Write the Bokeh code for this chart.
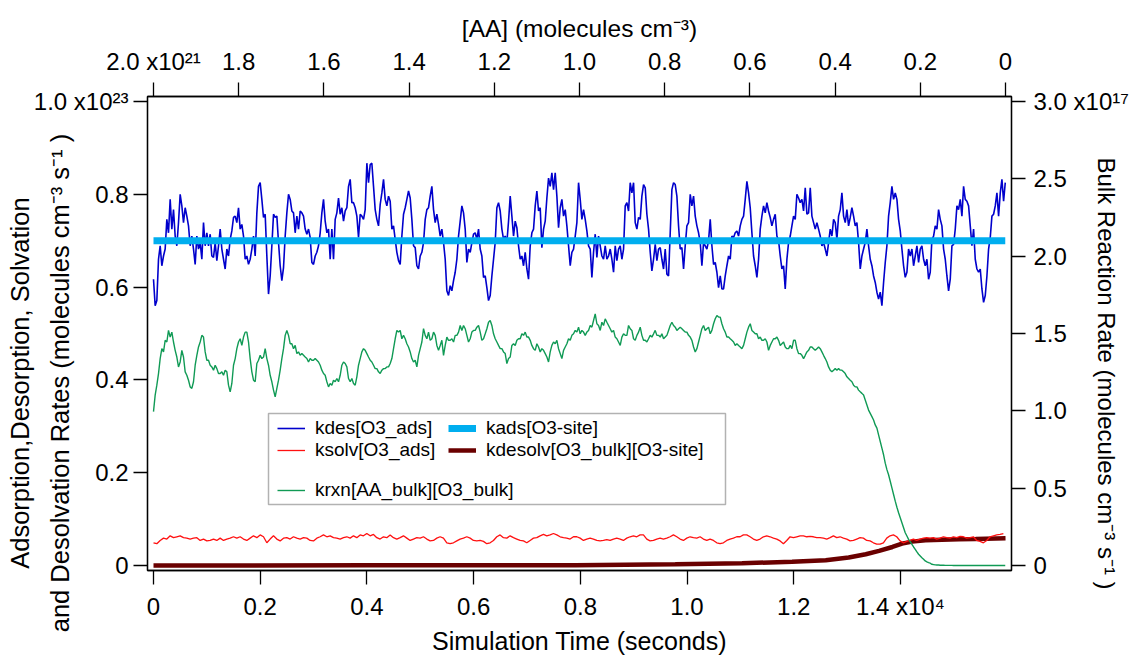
import numpy as np
from bokeh.plotting import figure
from bokeh.models import (Range1d, LinearAxis, FixedTicker, Legend, LegendItem,
                          BoxAnnotation)
from bokeh.embed import file_html
from bokeh.resources import INLINE

FONT = "Liberation Sans"
LEFT_UNIT = 1e23    # left axis unit (molecules cm-3 s-1)
RIGHT_UNIT = 1e17   # right axis unit
T_END = 15965.0     # last simulation time (s)

# ---------------- data ----------------
# kdes[O3_ads]  (x1e23), evenly sampled over 0..T_END
kdes = [
    0.617,0.560,0.571,0.660,0.689,0.646,0.667,0.682,0.746,0.717,
    0.789,0.725,0.767,0.710,0.689,0.739,0.800,0.775,0.739,0.771,
    0.753,0.732,0.689,0.710,0.682,0.649,0.710,0.682,0.696,0.660,
    0.739,0.689,0.717,0.689,0.714,0.667,0.664,0.696,0.657,0.689,
    0.725,0.682,0.660,0.639,0.682,0.667,0.703,0.721,0.750,0.753,
    0.739,0.771,0.725,0.735,0.710,0.660,0.667,0.649,0.660,0.682,
    0.710,0.667,0.760,0.817,0.825,0.789,0.750,0.757,0.667,0.585,
    0.624,0.689,0.757,0.750,0.753,0.696,0.646,0.614,0.642,0.710,
    0.760,0.800,0.789,0.764,0.760,0.717,0.753,0.725,0.764,0.760,
    0.753,0.725,0.714,0.725,0.707,0.653,0.649,0.667,0.675,0.689,
    0.717,0.760,0.789,0.742,0.717,0.725,0.660,0.725,0.660,0.746,
    0.760,0.792,0.757,0.771,0.742,0.764,0.771,0.817,0.832,0.782,
    0.782,0.771,0.753,0.707,0.757,0.753,0.746,0.767,0.867,0.825,
    0.864,0.867,0.817,0.767,0.746,0.732,0.778,0.803,0.832,0.789,
    0.775,0.796,0.785,0.725,0.732,0.703,0.675,0.657,0.649,0.710,
    0.757,0.771,0.789,0.807,0.792,0.746,0.689,0.685,0.646,0.639,
    0.667,0.675,0.696,0.746,0.767,0.771,0.796,0.817,0.767,0.739,
    0.757,0.735,0.710,0.725,0.696,0.660,0.592,0.582,0.603,0.592,
    0.614,0.632,0.660,0.710,0.742,0.775,0.760,0.725,0.653,0.682,
    0.675,0.696,0.714,0.717,0.703,0.725,0.682,0.667,0.621,0.624,
    0.599,0.571,0.582,0.624,0.660,0.696,0.771,0.782,0.764,0.725,
    0.703,0.710,0.696,0.742,0.796,0.753,0.710,0.742,0.728,0.689,
    0.660,0.667,0.646,0.675,0.639,0.617,0.689,0.717,0.725,0.775,
    0.807,0.764,0.771,0.685,0.725,0.742,0.792,0.835,0.817,0.846,
    0.810,0.846,0.796,0.728,0.771,0.789,0.753,0.767,0.732,0.689,
    0.646,0.675,0.682,
    0.710,0.739,0.825,0.789,0.746,0.767,0.746,0.721,0.689,0.682,
    0.621,0.675,0.714,0.664,0.710,0.689,0.667,0.660,0.689,0.660,
    0.667,0.682,0.660,0.632,0.689,0.657,0.682,0.689,0.660,0.682,
    0.775,0.782,0.764,0.825,0.803,0.825,0.739,0.725,0.750,0.746,
    0.796,0.821,0.814,0.757,0.725,0.675,0.635,0.660,0.692,0.657,
    0.682,0.685,0.660,0.639,0.682,0.628,0.624,0.717,0.810,0.825,
    0.821,0.796,0.732,0.682,0.685,0.639,0.689,0.732,0.739,0.800,
    0.775,0.796,0.753,0.732,0.717,0.696,0.646,0.696,0.689,0.682,
    0.700,0.746,0.689,0.649,0.653,0.632,0.599,0.624,0.596,0.596,
    0.624,0.646,0.667,0.660,0.710,0.707,0.717,0.721,0.710,0.732,
    0.746,0.753,0.789,0.828,0.803,0.771,0.717,0.667,0.646,0.621,
    0.660,0.725,0.753,0.775,0.760,0.782,0.764,0.750,0.732,0.746,
    0.757,0.710,0.700,0.667,0.639,0.646,0.596,0.660,0.696,0.710,
    0.732,0.753,0.746,0.800,0.792,0.782,0.789,0.764,0.814,0.757,
    0.760,0.814,0.753,0.739,0.725,0.739,0.725,0.710,0.689,0.696,
    0.682,0.667,0.696,0.725,0.710,0.746,0.739,0.703,0.753,0.767,
    0.803,0.753,0.739,0.767,0.732,0.750,0.771,0.753,0.732,0.739,
    0.696,0.639,0.667,0.682,0.696,0.725,0.689,0.660,0.646,0.624,
    0.610,0.589,0.574,0.589,0.560,0.610,0.653,0.689,0.753,0.782,
    0.817,0.789,0.803,0.789,0.746,0.721,0.682,0.646,0.621,0.632,
    0.682,0.667,0.682,0.646,0.667,0.689,0.653,0.682,0.689,0.660,
    0.646,0.660,0.617,0.632,0.703,0.710,0.732,0.725,0.767,0.746,
    0.732,0.682,0.660,0.624,0.592,0.617,0.689,0.692,0.725,0.775,
    0.767,0.789,0.753,0.817,0.789,0.785,0.775,0.732,0.689,0.725,
    0.660,0.639,0.632,0.639,0.596,0.567,0.582,0.624,0.682,0.707,
    0.753,0.757,0.775,0.803,0.753,0.803,0.832,0.785,0.825,
]

# krxn[AA_bulk][O3_bulk]  (x1e17), evenly sampled over 0..T_END
krxn = [
    0.995,1.102,1.166,1.241,1.338,1.402,1.381,1.456,1.445,1.520,
    1.477,1.509,1.445,1.391,1.348,1.284,1.316,1.391,1.348,1.252,
    1.230,1.198,1.155,1.145,1.188,1.295,1.359,1.413,1.445,1.488,
    1.477,1.381,1.327,1.327,1.295,1.284,1.263,1.295,1.273,1.241,
    1.241,1.252,1.230,1.263,1.252,1.166,1.123,1.177,1.295,1.338,
    1.402,1.445,1.466,1.423,1.477,1.509,1.509,1.445,1.338,1.252,
    1.198,1.188,1.306,1.327,1.359,1.338,1.348,1.402,1.338,1.295,
    1.230,1.188,1.134,1.091,1.145,1.198,1.263,1.338,1.402,1.488,
    1.520,1.488,1.434,1.434,1.402,1.423,1.370,1.381,1.359,1.370,
    1.359,1.348,1.338,1.316,1.338,1.327,1.327,1.338,1.327,1.316,
    1.295,1.263,1.241,1.230,1.188,1.155,1.177,1.166,1.198,1.188,
    1.209,1.188,1.230,1.295,1.316,1.306,1.284,1.209,1.188,1.209,
    1.177,1.166,1.220,1.295,1.338,1.381,1.402,1.391,1.370,1.348,
    1.327,1.316,1.295,1.273,1.273,1.252,1.241,1.263,1.273,1.273,
    1.284,1.284,1.306,1.338,1.402,1.466,1.520,1.509,1.520,1.466,
    1.488,1.466,1.434,1.413,1.381,1.338,1.316,1.327,1.284,1.359,
    1.402,1.445,1.531,1.488,1.466,1.509,1.456,1.466,1.509,1.488,
    1.423,1.391,1.423,1.456,1.359,1.423,1.477,1.456,1.456,1.466,
    1.445,1.488,1.488,1.509,1.552,1.520,1.552,1.531,1.488,1.445,
    1.466,1.509,1.520,1.520,1.541,1.552,1.509,1.456,1.466,1.498,
    1.531,1.573,1.584,1.552,1.498,1.466,1.445,1.423,1.402,1.402,
    1.381,1.370,1.306,1.338,1.348,1.423,1.434,1.423,1.456,1.466,
    1.466,1.498,1.488,1.509,1.477,1.477,1.456,1.423,1.402,1.391,
    1.434,1.413,1.381,1.402,1.391,1.370,1.348,1.316,1.381,1.423,
    1.445,1.434,1.456,1.402,1.370,1.338,1.391,1.413,1.434,1.466,
    1.456,1.488,1.498,1.520,
    1.509,1.541,1.498,1.520,1.509,1.488,1.509,1.520,1.552,1.541,
    1.584,1.627,1.563,1.552,1.520,1.573,1.552,1.595,1.573,1.552,
    1.531,1.509,1.520,1.477,1.466,1.445,1.423,1.477,1.498,1.488,
    1.488,1.552,1.531,1.520,1.466,1.456,1.488,1.509,1.541,1.488,
    1.456,1.456,1.445,1.466,1.488,1.477,1.498,1.520,1.488,1.488,
    1.477,1.498,1.466,1.477,1.488,1.520,1.552,1.573,1.552,1.541,
    1.520,1.531,1.541,1.531,1.520,1.509,1.509,1.488,1.477,1.456,
    1.413,1.381,1.402,1.445,1.488,1.531,1.552,1.520,1.531,1.541,
    1.498,1.520,1.563,1.595,1.616,1.606,1.606,1.563,1.531,1.509,
    1.477,1.477,1.466,1.456,1.445,1.423,1.434,1.423,1.413,1.402,
    1.423,1.466,1.509,1.541,1.563,1.520,1.509,1.498,1.498,1.466,
    1.477,1.456,1.456,1.466,1.445,1.391,1.423,1.445,1.466,1.466,
    1.477,1.456,1.423,1.434,1.445,1.413,1.402,1.402,1.423,1.402,
    1.456,1.456,1.402,1.370,1.370,1.359,1.338,1.359,1.381,1.391,
    1.413,1.413,1.402,1.391,1.402,1.413,1.402,1.381,1.359,1.338,
    1.316,1.284,1.263,1.252,1.263,1.273,1.263,1.273,1.263,1.263,
    1.252,1.241,1.220,1.209,1.198,1.188,1.166,1.155,1.155,1.134,
    1.123,1.113,1.102,1.070,1.038,1.005,0.984,0.963,0.941,0.909,
    0.888,0.845,0.802,0.759,0.716,0.662,0.620,0.587,0.545,0.502,
    0.459,0.416,0.377,0.341,0.309,0.277,0.244,0.212,0.191,0.169,
    0.154,0.137,0.120,0.105,0.088,0.073,0.062,0.051,0.041,0.030,
    0.024,0.019,0.015,0.008,0.006,0.004,
    0.003,0.003,0.002,0.002,0.002,0.001,0.001,0.001,0.001,0.001,
    0.0,0.0,0.0,0.0,0.0,0.0,0.0,0.0,0.0,0.0,
    0.0,0.0,0.0,0.0,0.0,0.0,0.0,0.0,0.0,0.0,
    0.0,0.0,0.0,0.0,0.0,0.0,0.0,0.0,0.0,0.0,
    0.0,0.0,
]

# ksolv[O3_ads]  (x1e23), evenly sampled over 0..15930 s
ksolv = [
    0.049,0.047,0.054,0.059,0.057,0.064,0.060,0.062,0.064,0.060,
    0.059,0.057,0.059,0.060,0.054,0.057,0.053,0.054,0.057,0.054,
    0.059,0.054,0.057,0.059,0.062,0.059,0.062,0.057,0.054,0.059,
    0.064,0.060,0.066,0.062,0.049,0.057,0.064,0.057,0.053,0.059,
    0.060,0.057,0.062,0.059,0.057,0.060,0.059,0.054,0.053,0.059,
    0.062,0.066,0.062,0.064,0.060,0.059,0.057,0.060,0.062,0.059,
    0.064,0.060,0.066,0.064,0.069,0.064,0.067,0.060,0.057,0.062,
    0.060,0.066,0.060,0.057,0.060,0.064,0.059,0.054,0.057,0.060,
    0.059,0.062,0.057,0.053,0.054,0.059,0.062,0.059,0.049,0.047,
    0.049,0.053,0.057,0.059,0.062,0.059,0.054,0.053,0.054,0.052,
    0.047,0.049,0.054,0.062,0.066,0.060,0.059,0.064,0.060,0.057,
    0.054,0.053,0.049,0.054,0.059,0.060,0.064,0.067,0.064,0.066,
    0.069,0.066,0.062,0.060,0.059,0.057,0.062,
    0.062,0.059,0.054,0.057,0.059,0.057,0.054,0.053,0.054,0.056,
    0.054,0.057,0.059,0.057,0.054,0.059,0.062,0.064,0.062,0.066,
    0.066,0.057,0.053,0.054,0.057,0.059,0.057,0.059,0.062,0.066,
    0.062,0.057,0.054,0.059,0.062,0.060,0.059,0.062,0.057,0.054,
    0.057,0.054,0.049,0.047,0.049,0.054,0.057,0.059,0.062,0.062,
    0.066,0.066,0.062,0.057,0.054,0.057,0.062,0.064,0.062,0.059,
    0.057,0.053,0.047,0.054,0.062,0.060,0.062,0.064,0.064,0.062,
    0.063,0.062,0.060,0.060,0.059,0.057,0.060,0.064,0.060,0.062,
    0.059,0.057,0.053,0.054,0.057,0.060,0.059,0.054,0.053,0.049,
    0.046,0.046,0.049,0.059,0.064,0.066,0.062,0.053,0.049,0.052,
    0.054,0.057,0.054,0.057,0.059,0.060,0.059,0.060,0.057,0.059,
    0.062,0.060,0.059,0.062,0.060,0.063,0.062,0.059,0.060,0.062,
    0.054,0.052,0.049,0.054,0.062,0.064,0.066,0.067,0.069,
]

# kdesolv[O3_bulk][O3-site]  (x1e23)
kdesolv_t = [0, 4000, 7910, 9780, 11030, 11970, 12600, 13030, 13350, 13600,
             13850, 14030, 14220, 14470, 14780, 15100, 15410, 15970]
kdesolv = [0.0, 0.0005, 0.0007, 0.0029, 0.005, 0.0079, 0.0114, 0.0172, 0.0243, 0.0315,
           0.040, 0.0472, 0.0515, 0.0543, 0.0557, 0.0565, 0.0572, 0.0586]

# kads[O3-site]  (x1e23), constant
kads_t = [0.0, T_END]
kads = [0.70, 0.70]

# axis ticks / labels
time_ticks = [0, 2000, 4000, 6000, 8000, 10000, 12000, 14000]
time_labels = ["0", "0.2", "0.4", "0.6", "0.8", "1.0", "1.2", "1.4 x10\u2074"]
left_ticks = [0.0, 2e22, 4e22, 6e22, 8e22, 1e23]
left_labels = ["0", "0.2", "0.4", "0.6", "0.8", "1.0 x10\u00b2\u00b3"]
right_ticks = [0.0, 5e16, 1e17, 1.5e17, 2e17, 2.5e17, 3e17]
right_labels = ["0", "0.5", "1.0", "1.5", "2.0", "2.5", "3.0 x10\u00b9\u2077"]
aa_ticks = [0.0, 2e20, 4e20, 6e20, 8e20, 1e21, 1.2e21, 1.4e21, 1.6e21, 1.8e21, 2e21]
aa_labels = ["0", "0.2", "0.4", "0.6", "0.8", "1.0", "1.2", "1.4", "1.6", "1.8", "2.0 x10\u00b2\u00b9"]

NB = "\u00a0"
left_title = ("Adsorption,Desorption, Solvation" + NB * 14 + "\n"
              + "and Desolvation Rates (molecules cm\u207b\u00b3 s\u207b\u00b9 )" + NB * 14)
right_title = NB * 12 + "Bulk Reaction Rate (molecules cm\u207b\u00b3 s\u207b\u00b9 )"
top_title = "[AA] (molecules cm\u207b\u00b3)"
bottom_title = "Simulation Time (seconds)"

# ---------------- figure ----------------
p = figure(width=1140, height=657, output_backend="svg", toolbar_location=None,
           x_range=Range1d(-112.5, 16082), y_range=Range1d(-0.0107 * LEFT_UNIT, 1.0107 * LEFT_UNIT),
           min_border_left=147, min_border_right=129, min_border_top=96, min_border_bottom=84)
p.extra_y_ranges = {"bulk": Range1d(-0.0107 * 3 * RIGHT_UNIT, 1.0107 * 3 * RIGHT_UNIT)}
p.extra_x_ranges = {"aa": Range1d(2.01408e21, -0.01408e21)}
p.xgrid.visible = False
p.ygrid.visible = False
p.outline_line_color = "black"
p.outline_line_width = 1.3
p.background_fill_color = "white"
p.border_fill_color = "white"


def style_axis(ax, standoff, title_size="24px"):
    ax.major_label_text_font = FONT
    ax.major_label_text_font_size = "24px"
    ax.major_label_text_color = "black"
    ax.axis_line_color = "black"
    ax.axis_line_width = 1.3
    ax.major_tick_line_color = "black"
    ax.major_tick_line_width = 1.3
    ax.major_tick_in = 0
    ax.major_tick_out = 14
    ax.minor_tick_line_color = None
    ax.major_label_standoff = standoff
    ax.axis_label_text_font = FONT
    ax.axis_label_text_font_size = title_size
    ax.axis_label_text_font_style = "normal"
    ax.axis_label_text_color = "black"


bottom = p.xaxis[0]
bottom.ticker = FixedTicker(ticks=time_ticks)
bottom.major_label_overrides = dict(zip(time_ticks, time_labels))
bottom.axis_label = bottom_title
style_axis(bottom, 8, "25px")
bottom.axis_label_standoff = 4

left = p.yaxis[0]
left.ticker = FixedTicker(ticks=left_ticks)
left.major_label_overrides = dict(zip(left_ticks, left_labels))
style_axis(left, 5, "25.5px")
left.axis_label = left_title
left.axis_label_text_line_height = 1.41
left.axis_label_standoff = -43

right = LinearAxis(y_range_name="bulk", ticker=FixedTicker(ticks=right_ticks),
                   major_label_overrides=dict(zip(right_ticks, right_labels)))
style_axis(right, 8, "24px")
right.axis_label = right_title
right.axis_label_standoff = -39
p.add_layout(right, "right")

top = LinearAxis(x_range_name="aa", ticker=FixedTicker(ticks=aa_ticks),
                 major_label_overrides=dict(zip(aa_ticks, aa_labels)),
                 axis_label=top_title)
style_axis(top, 8, "24.5px")
top.axis_label_standoff = 3
p.add_layout(top, "above")

# ---------------- series ----------------
t_fast = np.linspace(0, T_END, len(kdes))
t_krxn = np.linspace(0, T_END, len(krxn))
t_solv = np.linspace(0, 15930, len(ksolv))

r_desolv = p.line(np.array(kdesolv_t), np.array(kdesolv) * LEFT_UNIT, line_color="#6A0000", line_width=4.5)
r_solv = p.line(t_solv, np.array(ksolv) * LEFT_UNIT, line_color="#FF1010", line_width=1.3)
r_rxn = p.line(t_krxn, np.array(krxn) * RIGHT_UNIT, y_range_name="bulk", line_color="#109A55", line_width=1.4)
r_des = p.line(t_fast, np.array(kdes) * LEFT_UNIT, line_color="#0000CC", line_width=1.6)
r_ads = p.line(np.array(kads_t), np.array(kads) * LEFT_UNIT, line_color="#00AEEF", line_width=7)

# ---------------- legend ----------------
box = BoxAnnotation(left=121, right=578, bottom=66, top=157,
                    left_units="screen", right_units="screen", top_units="screen", bottom_units="screen",
                    fill_color="white", fill_alpha=1.0, line_color="black", line_width=1.5)
p.add_layout(box)


def make_legend(items, loc):
    lg = Legend(items=items, location=loc, orientation="vertical",
                border_line_color=None, background_fill_color=None, background_fill_alpha=0,
                padding=0, margin=0, spacing=0, glyph_width=28, glyph_height=20,
                label_height=20, label_standoff=10,
                label_text_font=FONT, label_text_font_size="19px", label_text_color="black")
    p.add_layout(lg, "center")


make_legend([LegendItem(label="kdes[O3_ads]", renderers=[r_des]),
             LegendItem(label="ksolv[O3_ads]", renderers=[r_solv])], (130, 109))
make_legend([LegendItem(label="kads[O3-site]", renderers=[r_ads]),
             LegendItem(label="kdesolv[O3_bulk][O3-site]", renderers=[r_desolv])], (301, 109))
make_legend([LegendItem(label="krxn[AA_bulk][O3_bulk]", renderers=[r_rxn])], (130, 69))

open("out.html", "w").write(file_html(p, INLINE))
